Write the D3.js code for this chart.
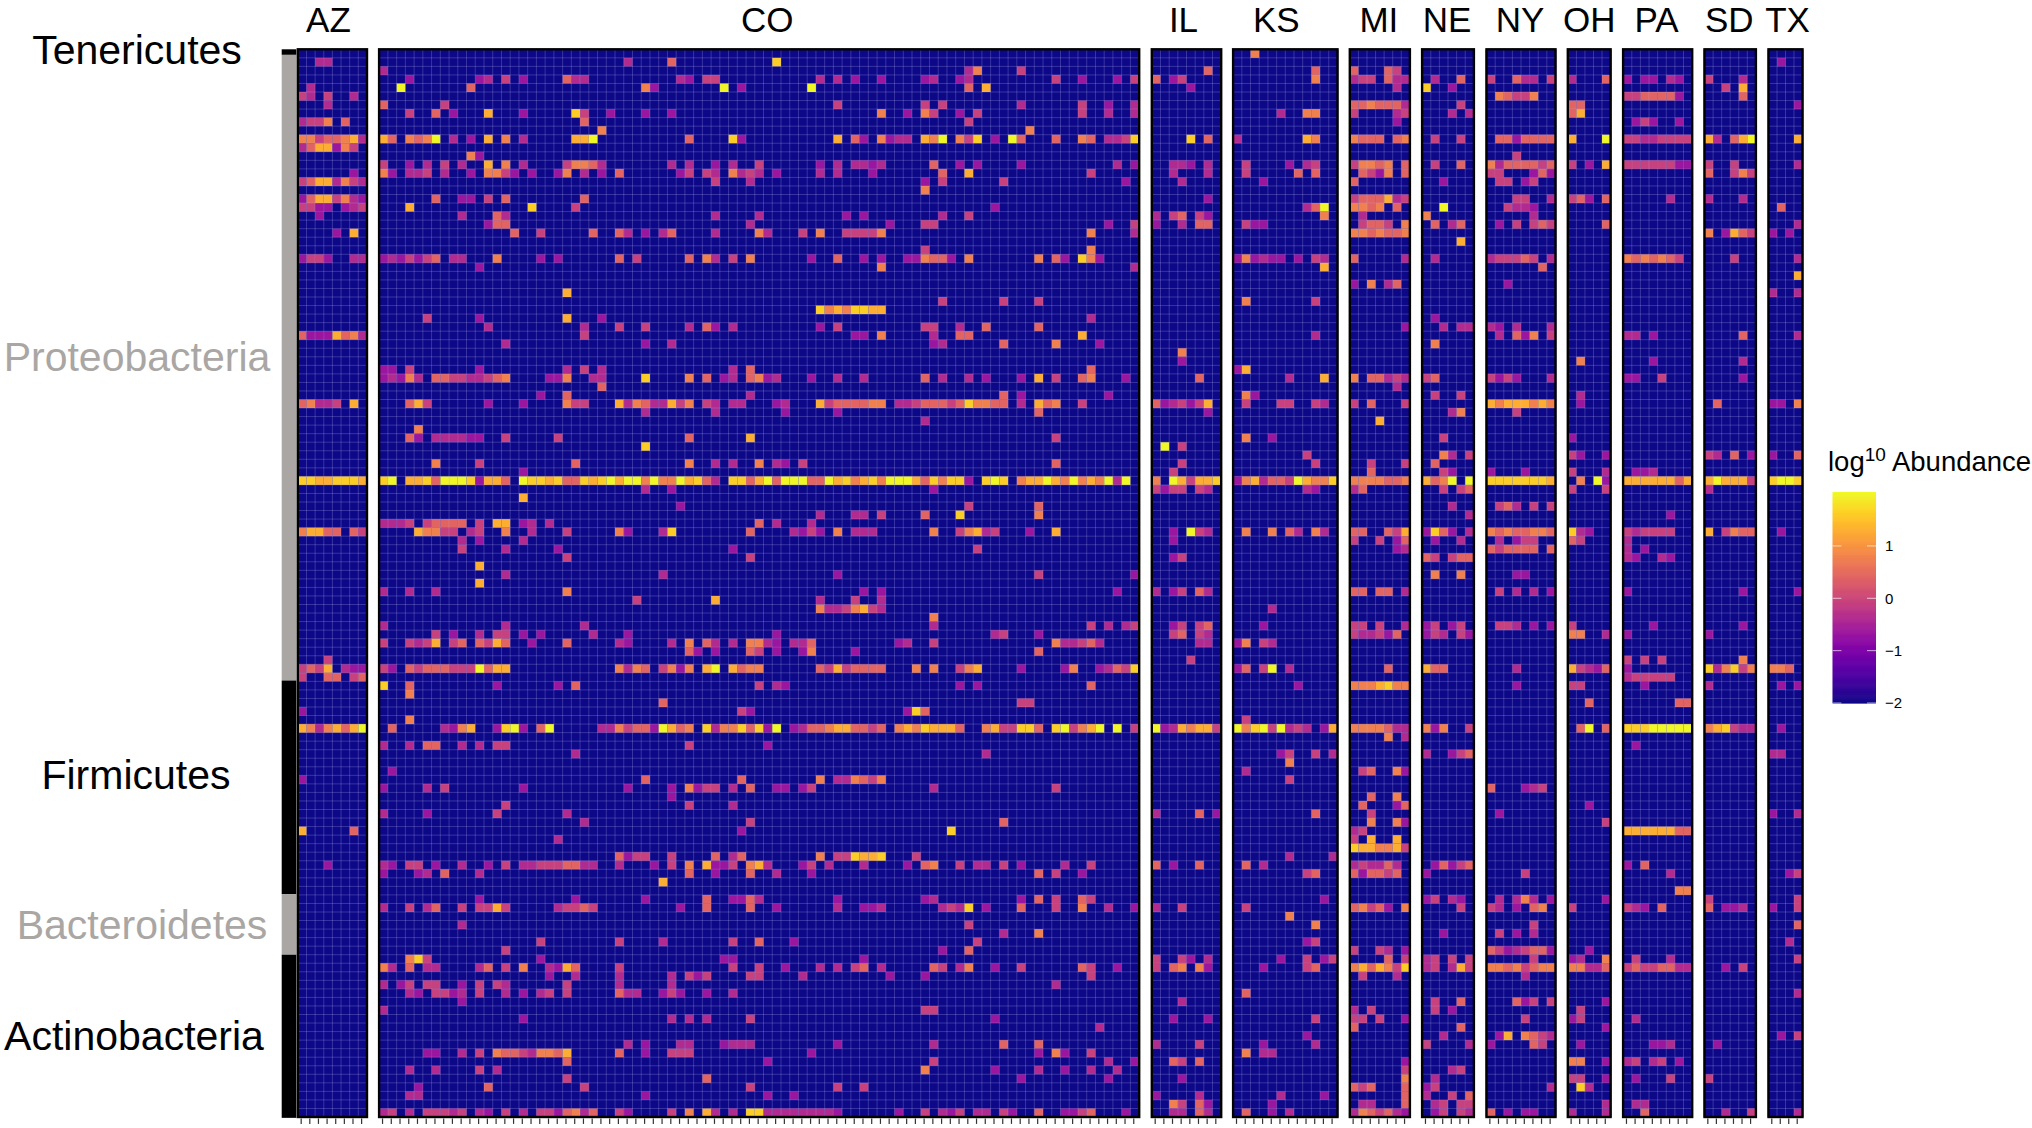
<!DOCTYPE html>
<html><head><meta charset="utf-8">
<script src="https://cdn.jsdelivr.net/npm/d3@7"></script>
<style>html,body{margin:0;padding:0;background:#fff}svg{display:block}text{font-family:"Liberation Sans",Arial,sans-serif}</style>
</head><body><div id="chart"></div>
<script>
const panelNames=["AZ","CO","IL","KS","MI","NE","NY","OH","PA","SD","TX"];
const panelCols=[8,87,8,12,7,6,8,5,8,6,4];
const rowCount=125;
const phylumNames=["Tenericutes","Proteobacteria","Firmicutes","Bacteroidetes","Actinobacteria"];
const phylumEnds=[0.65,73.9,98.9,106,125.1];
const legendTicks=[-2,-1,0,1];
const levelValues={a:-.67,b:-.39,c:-.07,d:.42,e:.78,f:1.3,g:1.63,h:2.0};
const AZ=[[1,"2b 3b"],[4,"1b"],[5,"0c 1b 3c 6b"],[6,"3b"],[8,"0b 1c 2c 3e 5d"],[10,"0e 1e 2c 3d 4d 5e 6f 7b"],[11,"0b 1d 2f 3f 4a 5e 6c"],[14,"6a"],[15,"0c 1d 2f 3f 4b 5e 6c 7b"],[17,"0a 1d 2f 3f 4c 5e 6b 7a"],[18,"0c 1c 2a 3a 5a 6b 7c"],[19,"2a"],[21,"4a 6f"],[24,"0a 1c 2c 3a 6b 7b"],[33,"0d 1a 2a 3a 4f 5d 6e 7b"],[41,"0d 1e 2b 3b 4c 6f"],[50,"0g 1g 2f 3f 4g 5g 6g 7f"],[56,"0e 1f 2f 3d 4d 6d 7c"],[71,"3c"],[72,"0c 1d 2c 3f 5b 6a 7a"],[73,"0c 3d 4d 6c 7d"],[77,"0a"],[79,"0f 1e 2b 3e 4f 5d 6f 7h"],[85,"0a"],[91,"0f 6d"],[95,"3a"]];
const CO=[
[1,"28b 33d 45g"],[2,"0b 67b 68e 73c"],
[3,"3a 11a 12b 14c 16a 21d 22b 23b 34b 35a 37c 38c 50b 52b 54a 57a 62a 63b 66a 67b 77c 80a 84a 86c"],
[4,"2h 10d 30e 31a 39h 41a 49h 67d 69f"],
[6,"0d 7c 52c 62c 64c 73b 80c 83a 86b"],
[7,"3c 6d 8a 12f 16a 22g 23c 26a 30a 33a 57e 60a 62e 63c 66a 68c 80c 83b 86b"],
[8,"23d 67c"],[9,"25e 74e"],
[10,"0f 1d 3e 4d 5e 6h 8b 10a 12f 14e 16b 22f 23f 24h 35d 40g 41a 52f 54d 55a 57e 58a 59b 60b 62f 63e 64h 66e 67c 68g 70a 72h 73d 77d 80e 81d 83b 84b 85c 86g"],
[12,"10e 11a"],
[13,"0c 3a 5b 7c 9b 12f 14e 16b 21c 22e 23e 24d 25b 33b 35b 38a 40b 43c 50a 52b 54b 55b 56a 57b 63d 66a 68a 73a 84b 86a"],
[14,"0e 1a 3b 4b 5c 7b 10a 12e 13e 14c 15a 17a 20a 21e 23b 25a 27d 34a 35c 37c 38b 40e 41b 42c 43b 45a 50b 52b 56a 64d 67f 81c"],
[15,"38c 42b 62a 64c 71c 85a"],[16,"62e"],
[17,"6d 9a 10a 12c 14d 23d"],[18,"3f 17g 22c 70a"],
[19,"9b 13d 14b 38b 43b 53a 55a 64b 67c"],[20,"12a 13d 14d 42b 58a 62c 63c 83a 86c"],
[21,"15d 18c 24d 27d 28b 30a 32b 33d 38b 43e 44b 48c 50e 53c 54c 55c 56c 57e 81e 86b"],
[23,"62c 81e"],
[24,"0a 1b 2a 3c 4a 5c 6d 8b 9b 13e 18a 20a 27d 29c 35d 37e 38b 40c 42e 49a 52d 55a 57a 60a 61a 62e 63d 64d 65a 67e 75e 77d 78a 80g 81e 82a"],
[25,"11a 57e 86b"],[28,"21f"],[29,"64c 71c 75c"],
[30,"50g 51e 52f 53e 54g 55g 56f 57f"],[31,"5c 11a 21f 25a 81b"],
[32,"12b 23b 27c 30c 35b 37d 38a 40b 50a 52c 62c 63c 66b 69d 75d"],
[33,"23c 54a 55a 57e 63b 66d 67d 80f"],[34,"14b 30a 33b 63a 64b 71d 77e 82a"],
[37,"0a 1a 3c 11a 21b 23c 25b 40b 42d 81d"],
[38,"0a 1b 2a 3e 4b 6d 7d 8c 9c 10b 11b 12c 13d 14e 19a 20a 21e 24b 25b 30g 35e 37d 39a 40b 42d 43e 44a 45b 49a 52b 55b 62d 64b 67b 69a 73a 75f 77c 80d 81e 85a"],
[39,"25d"],[40,"18a 21d 42b 71d 73a 83a"],
[41,"3d 4f 5c 12a 16a 21e 22c 23c 27f 28b 29e 30d 31b 32b 33f 34c 35e 37c 38b 40b 41b 45a 46b 50f 51c 52d 53d 54d 55d 56e 57e 59b 60b 61c 62d 63d 64d 65c 66d 67g 68e 69e 70d 71d 73b 75f 76d 77e 80c"],
[42,"30b 38b 46a 52a 75d"],[43,"62b"],[44,"4e"],
[45,"3d 4a 6b 7b 8b 9b 10a 11a 14c 20c 35d 42f 77c"],[46,"30g"],
[48,"6e 11c 22d 35e 38b 40b 43e 45b 46a 48c 77d"],[49,"16a"],
[50,"0g 1h 3f 4f 5g 6d 7h 8h 9h 10g 11a 12f 13f 14d 16h 17g 18g 19f 20g 21d 22d 23g 24f 25g 26h 27f 28h 29h 30e 31h 32e 33e 34h 35f 36g 37d 38b 40g 41g 42d 43f 44h 45d 46h 47h 48h 49d 50d 51h 52f 53g 54e 55f 56g 57e 58h 59h 60h 61f 62d 63g 64e 65g 66g 67a 69g 70h 71g 73e 74f 75f 76h 77f 78e 79h 80e 81f 82e 83h 84b 85h"],
[51,"30b 33a 63a"],[52,"16f"],[53,"34a 67c 75d"],
[54,"50b 54b 55b 57c 62d 66g 75e"],
[55,"0b 1b 2b 3c 5c 6d 7d 8d 9d 11c 13f 14f 16a 17b 19b 43d 45b 49b"],
[56,"4f 5e 6e 7c 8c 10b 11c 14e 17b 21c 27e 28a 32b 33g 42d 47b 48a 49c 50a 52e 54b 55b 56b 63e 66c 67e 68f 69b 70c 74a 77f"],
[57,"9b 11a 16b"],[58,"9c 14b 20a 40a 68c"],[59,"21c 42c"],[60,"11f"],
[61,"14b 32b 52a 75c 86a"],[62,"11f"],[63,"0b 3b 6b 21e 55a 57a 84a"],
[64,"29c 38f 50b 54c 57b"],[65,"50e 51b 52b 53c 54e 55f 56c 57b"],[66,"63e"],
[67,"0b 14b 23b 63b 81c 83b 85b 86c"],
[68,"6c 8a 11b 13c 14c 16a 18a 24b 28a 45a 70b 71c 75a"],
[69,"0c 3c 4b 5c 6f 8c 9d 11d 12c 13f 14d 17a 21d 27b 28a 33b 35e 37d 38b 40b 42e 43e 44b 45a 47b 48b 49d 59a 60b 63c 77e 78b 79b 80c 81d 82b"],
[70,"35d 36a 38a 42d 43c 45a 48a 49e 54a 75d"],
[72,"0c 1a 3d 4c 5d 6d 7d 8c 9c 10c 11h 12d 13f 14f 27e 28b 29e 30d 32c 33e 34a 35e 37f 38h 40f 41d 42e 43e 50d 51c 52f 53c 54d 55d 56d 57d 61e 63e 66c 67e 68f 73a 78a 79e 82a 83b 84d 85c 86g"],
[74,"0g 3d 13a 20a 22d 43c 45b 46a 66a 68a 81d"],[75,"3e"],[76,"32d 73c 74c"],
[77,"41c 42a 60a 61g 62d"],[78,"3e"],
[79,"1d 7b 8a 9e 10f 13a 14g 15h 16a 18d 19h 25b 26b 27e 28c 29d 30d 31a 32h 33f 34d 35e 37g 38b 39e 40e 41g 42d 43g 44a 45h 47a 48b 49d 50d 51e 52f 53f 54d 55d 56c 57d 59e 60f 61e 62g 63f 64f 65f 66d 69e 70f 71c 72c 73g 74g 75d 77g 78h 79c 80e 81f 82h 84h 86c"],
[81,"0b 3b 5d 6d 9b 11b 13c 14c 35c 44a"],[82,"22b 69b"],
[84,"1a"],[85,"30d 41d 50e 52b 53b 54e 55d 56c 57e"],
[86,"0a 5b 7c 16a 28a 33a 35e 36a 37c 38c 40b 42d 45a 46a 48a 49c 63b 77c"],
[87,"33a"],[88,"14c 35c 40b"],[89,"0b 5a 13c 21b"],[90,"23b 42c 71d"],[91,"41a 65g"],[92,"20b"],
[94,"27d 28a 29c 30c 33c 38d 40b 41d 50e 52c 53c 54g 55f 56f 57g 61c"],
[95,"0b 1a 3c 4c 6a 9b 12a 14c 16b 17b 18c 19c 20c 21d 22d 23b 24b 27b 31a 33c 35e 37f 38a 39a 40c 42e 43f 44b 48a 49c 51b 55b 60a 62d 63e 66c 68b 69b 71c 73a 78b 81c"],
[96,"0a 4a 5b 7d 11b 35d 38a 42d 45b 49a 75d 77c 80a"],[97,"32f"],
[99,"11a 22a 30a 37d 40a 41a 42d 43b 52a 62a 63b 73a 75d 77c 80d 81c"],
[100,"0b 3c 5b 6d 9c 11c 12c 13f 14c 20b 21c 22c 23d 24c 34a 37d 42d 45a 52b 55a 56a 57b 64b 65c 66b 67g 69a 73d 77c 80e 83b 86a"],
[102,"9b 67c"],[103,"71b 75e"],[104,"18c 27c 32b 40c 43d 47a 68c"],[105,"14c 64a 67d"],
[106,"3e 4g 5c 18a 39a 40a 55a"],
[107,"0e 1b 3d 5b 6b 11b 12d 14c 16e 19b 20a 21f 22d 27c 40c 43c 46a 50b 52b 54c 55d 57b 63d 64c 66b 67e 70a 73c 80d 81c 84a"],
[108,"19a 22b 27b 33b 35c 36a 37c 42c 43c 48b 58a 62a 81c"],
[109,"0b 2a 3c 5c 6c 9a 11c 13c 14b 21c 27b 33b 77b"],
[110,"3b 4a 6c 7c 8a 9b 11c 14b 16a 18b 19c 21c 27d 28b 29b 32a 33c 34a 37a 40b"],
[111,"9a"],[112,"0b 62c 63c"],[113,"16a 33b 35b 37b 42c 70a"],[114,"82b"],
[116,"28b 30a 34b 35b 39a 40b 41b 42b 52a 63b 71d 75d"],
[117,"5a 6a 9b 11c 13e 14d 15d 16c 17b 18e 19e 20d 21f 27d 30a 33c 34c 35c 49a 75a 77e 78a 81c"],
[118,"21d 44a 63c 83b 86a"],[119,"3b 6b 11c 13b 62e 70a 75b 78a 81b 84b"],[120,"21c 37d 73a 83a"],
[121,"4a 12d 23c 42c 52c 55c"],[122,"3b 4b 30a 44a 47a"],
[124,"0b 1c 3b 5c 6c 7c 8b 9c 11b 12a 14c 16b 18c 19c 20a 21d 22e 23b 24d 27c 28a 33c 35e 37f 38b 40b 42g 43g 44b 45b 46b 47b 48b 49b 50b 51b 52a 59a 62c 64b 65a 66c 68b 69b 71c 72a 75d 78a 79a 80c 81d 85a"]
];
const IL=[[2,"6d"],[3,"0d 2a 3c"],[4,"4a"],[10,"4g 6d"],[13,"2b 3b 4a 6b"],[14,"2b 6b"],[15,"3b"],[17,"6a"],[19,"0b 2c 3d 5c 6a"],[20,"0a 3b 5d 6d"],[35,"3e"],[36,"3a"],[38,"5d"],[41,"0d 1a 2b 3c 4a 5c 6f"],[42,"6a"],[46,"1h 3c"],[48,"3c"],[49,"2c"],[50,"0e 2h 3f 4c 5f 6f 7g"],[51,"0c 1a 2c 3c 5c 6b"],[56,"2a 4h 5c 6b"],[57,"2a"],[59,"2a 3c"],[63,"0b 2a 3c 5d 6b"],[67,"2a 3c 5c 6d"],[68,"2c 3d 5c 6b"],[69,"5b 6b"],[71,"4c"],[79,"0h 1a 2b 3f 4e 5f 6f 7c"],[89,"0b 5d 7a"],[95,"0d 2a 5d"],[100,"0b 3c"],[106,"0c 3c 4a 6b"],[107,"0c 2d 3e 5e 6a"],[111,"3b"],[113,"2a 6a"],[116,"0b 5c"],[118,"2d 3c 5d"],[120,"3a"],[122,"0a 5b"],[123,"2e 3c 5d 6a"],[124,"2b 3b 5d 6b"]];
const KS=[[0,"2e"],[2,"9d"],[3,"9e"],[7,"5b 8e 9e"],[10,"0b 8f 9e"],[13,"1c 6a 8b 9c"],[14,"1c 7d 9d"],[15,"3a"],[18,"8b 9d 10h"],[19,"10e"],[20,"1c 2a 3a"],[24,"0a 1e 2a 3b 4a 5a 7a 9c 10b"],[25,"10f"],[29,"1e 9c"],[33,"9b"],[37,"0a 1f"],[38,"6b 10f"],[40,"1e 2a"],[41,"1c 5c 6c 9c 10b"],[45,"1e 4a"],[47,"8c"],[48,"9c"],[50,"0a 1e 2f 3b 4d 5d 6c 7h 8f 9e 10e 11g"],[51,"8b 9a"],[56,"1e 4e 6d 7b 9e 10b"],[65,"4b"],[67,"3a"],[69,"0a 1e 3c 4b"],[72,"0a 1d 3c 4h 6b"],[74,"7a"],[78,"1c"],[79,"0h 1e 2g 3h 4c 5h 6b 7c 8b 10a 11f"],[82,"5a 6c 9c 11b"],[83,"6e"],[84,"1b"],[85,"6c"],[89,"9d"],[94,"6b 11b"],[95,"1d 3b"],[96,"8c 9d"],[99,"10a"],[100,"1c"],[101,"6e"],[102,"9e"],[104,"8a 9c"],[106,"5a 8c 10a 11c"],[107,"3a 8c 9d"],[110,"1d"],[113,"9c"],[115,"8a"],[116,"3a 9b"],[117,"1e 3b 4b"],[122,"5b 10a"],[123,"4a"],[124,"1d 4a 6b"]];
const MI=[[2,"0d 4d 5c"],[3,"0b 1c 2c 4d 5b 6b"],[4,"5b"],[6,"0d 1d 2e 3d 4d 5d 6b"],[7,"0c 5b 6c"],[8,"5a"],[10,"0e 1d 2d 3d 5d 6e"],[13,"0c 1e 2e 3d 4e 6d"],[14,"1d 2c 3a 4e 6d"],[15,"0d"],[17,"0c 1d 2d 3d 4f 5b 6c"],[18,"0e 1e 2d 3e 5d"],[19,"1b"],[20,"1c 2d 3d 4c 6e"],[21,"0e 1e 2d 3e 4d 5d 6e"],[24,"0d 6b"],[27,"0a 2e 4b 5d"],[32,"6a"],[38,"0e 2d 3d 4b 5c 6b"],[39,"5b"],[41,"0c 2d 6c"],[43,"3f"],[48,"2c 6c"],[49,"2d"],[50,"0e 1e 2e 3e 4d 5d 6e"],[51,"0b 1d"],[56,"0d 1d 4d 5c 6f"],[57,"0c 3c 5a 6d"],[58,"5a 6b"],[63,"0d 1d 3d 4d 6b"],[67,"0c 1c 3c 6b"],[68,"0c 1b 2b 3c 4a 5d"],[72,"4d"],[74,"0e 1e 2e 3f 4g 5e 6e"],[79,"0e 1e 2e 3e 4d 5b 6b"],[80,"4e 6b"],[84,"1c 2d 5e 6a"],[87,"2d 5e"],[88,"1d 5a 6d"],[89,"2c"],[90,"2e 5e 6a"],[91,"0b 1c"],[92,"0c 2f 5f"],[93,"0g 1f 2f 3e 4e 5f 6c"],[95,"0b 1c 2b 3b 4d 5b"],[96,"0d 1a 2d 3d 4c 5d"],[100,"0d 1e 2c 3d 4a 6e"],[105,"0c 3c 4b 6a"],[106,"4d 6c"],[107,"0e 1f 2d 3f 4e 5c 6g"],[108,"1c 5b"],[112,"0b 2c"],[113,"0c 1c 3c 6a"],[114,"0d"],[118,"6a"],[119,"6c"],[120,"6e"],[121,"0d 1c 2d 6d"],[122,"6d"],[123,"1b 2b 6d"],[124,"0b 1e 2d 3c 4d 5b 6a"]];
const NE=[[3,"1b 4d"],[4,"0g 3a"],[6,"4c"],[7,"3b 5b"],[10,"1c 4c"],[13,"1c 4d"],[15,"2a"],[18,"2h"],[19,"0e"],[20,"1d 3b 4d"],[22,"4f"],[24,"1b"],[31,"1a"],[32,"2b 4b 5b"],[34,"1e"],[38,"0c 1d"],[40,"1c 4c"],[42,"3b 4e"],[45,"2c"],[47,"2e 3b 5c"],[48,"1d"],[49,"2c 3a"],[50,"0f 1d 2e 3h 5h"],[51,"2c 4c 5d"],[53,"3b"],[54,"5b"],[56,"0a 1g 2d 3a 5b"],[57,"1a 4b"],[59,"0d 1c 3c 4d 5d"],[61,"1e 4e"],[67,"0a 1c 3a 4c"],[68,"0a 1c 2b 4c 5a"],[72,"0f 1d 2d"],[79,"0e 1a 2e 5c"],[82,"0b 3a 4c 5d"],[95,"1a 2d 3a 4c 5d"],[96,"0a"],[99,"0a 1c 3b 4a"],[100,"4c"],[103,"2a"],[106,"0b 1c 3c 5c"],[107,"0b 1c 3b 4f 5c"],[111,"1c 4d"],[112,"1c 3a"],[114,"4d"],[115,"2b"],[116,"0c 5b"],[119,"3b 4c"],[120,"1b"],[121,"0a 1c"],[122,"0b 3c 5d"],[123,"1b 2c 4c 5c"],[124,"1a 2c 4c 5b"]];
const NY=[[3,"0c 3d 4b 5b 7c"],[5,"1e 2d 3c 4c 5e"],[10,"1d 2d 3a 4d 5d 6d 7d"],[12,"3c"],[13,"0e 1b 2d 3d 4d 5d 6c 7d"],[14,"0c 1c 5a 6d 7a"],[15,"1c 2c 4a 5c"],[17,"3c 4c 7b"],[18,"2c 3b 4b 5a"],[19,"5b"],[20,"1a 3c 5c 6d 7c"],[24,"0b 1c 2c 3c 4d 5c 7b"],[25,"6d"],[27,"2a"],[32,"0b 1a 3b 7b"],[33,"1b 3d 4a 5e 7c"],[38,"0c 1a 2c 3a 7b"],[41,"0f 1e 2f 3f 4f 5e 6f 7e"],[42,"3c"],[49,"0a 4a"],[50,"0g 1g 2g 3g 4g 5g 6g 7f"],[53,"1c 2d 3b 5c 7c"],[56,"0e 1d 2e 3d 4d 5e 6e 7d"],[57,"1b 3a 4c 5c"],[58,"0d 1c 2d 3d 4d 5d 7d"],[61,"3a 4a"],[63,"1c 3b 5b 7a"],[67,"1c 2c 3b 5a 7a"],[72,"3b"],[74,"3a"],[86,"0d 4a 5b 6c"],[89,"1a"],[96,"4c"],[99,"1b 3b 4e 5b 7a"],[100,"0c 1b 3a 5d 6e"],[102,"5c"],[103,"1c 3a 5b"],[105,"0d 1c 2a 3b 4c 5d 6d 7a"],[106,"5c"],[107,"0e 1e 2d 3e 4c 5d 6e 7e"],[108,"4b"],[111,"3d 4a 5c 7c"],[113,"4c"],[115,"1a 2f 4e 5d 6c 7b"],[116,"0a 5d 6c"],[121,"7b"],[124,"0d 2a 4a 5a"]];
const OH=[[3,"0b 4d"],[6,"0d 1d"],[7,"0d 1f"],[10,"0f 4h"],[13,"0c 2a 4f"],[17,"0c 1d 2a 4d"],[20,"4d"],[36,"1e"],[40,"1b"],[41,"1a"],[45,"0a"],[47,"0c 1a 4a"],[49,"0c 4b"],[50,"1e 3h 4a"],[51,"0c 4c"],[56,"0g 1b 2a"],[57,"0d 1c"],[67,"0c"],[68,"0e 1e 4b"],[72,"0f 1c 2b 3a 4d"],[74,"0c 1c"],[76,"2d"],[79,"1d 2h 4d"],[88,"2a"],[90,"4c"],[99,"4a"],[100,"0c"],[105,"2a"],[106,"0a 1b 4e"],[107,"0e 1e 2b 3b 4d"],[111,"4a"],[112,"1c"],[113,"0a 1c"],[114,"4a"],[116,"1a"],[118,"0e 1e 4a"],[120,"0c 1c 4a"],[121,"1g 2b"],[123,"4b"],[124,"0b 4b"]];
const PA=[[3,"0a 2a 3a 5b 6a"],[5,"0c 1c 2d 3d 4d 5d 6a"],[8,"1a 2c 3a 6a"],[10,"0c 1c 2b 3b 4c 5c 6c 7c"],[13,"0c 1c 2c 3c 4c 5c 6a 7a"],[17,"5b"],[24,"0e 1d 2e 3d 4e 5d 6c"],[33,"0b 1b 3a"],[36,"3a"],[38,"0a 1a 4c"],[49,"1a 2a 3b"],[50,"0f 1f 2f 3f 4f 5f 6d 7f"],[54,"5a"],[56,"0c 1b 2c 3c 4c 5c"],[57,"0b"],[58,"0b 2a"],[59,"0b 1a 4b 5a"],[63,"0a"],[67,"3a"],[68,"0a"],[71,"0c 2c 4c"],[72,"0a"],[73,"0b 1c 2c 3c 4c 5c"],[74,"2a"],[76,"6d 7d"],[79,"0g 1g 2g 3h 4h 5h 6h 7h"],[81,"1a"],[91,"0f 1f 2f 3f 4f 5f 6d 7d"],[95,"0a 2d"],[96,"5b"],[98,"6e 7e"],[100,"0c 1b 2a 4d"],[106,"1c 5b"],[107,"0c 1d 2c 3c 4d 5d 6b 7b"],[113,"1b"],[116,"3a 4a 5b"],[118,"0b 1c 3b 4c 6a"],[120,"1a 5c"],[123,"1b 2b"],[124,"2d"]];
const SD=[[3,"0c 4b"],[4,"2c 4f"],[5,"4d"],[10,"0f 1b 3d 4f 5h"],[13,"0c 3c"],[14,"0d 3c 4e 5c"],[17,"0b 4b"],[21,"0e 2a 3f 4d 5c"],[24,"3c"],[33,"4d"],[36,"4b"],[38,"4a"],[41,"1d"],[47,"0c 1b 3d 5a"],[50,"0f 1h 2f 3f 4f 5c"],[51,"0b"],[56,"0f 2c 3e 4d 5d"],[63,"4a"],[67,"4a"],[68,"0a"],[71,"4e"],[72,"0g 1b 2e 3g 4c 5e"],[74,"0b"],[79,"0e 1f 2g 3c 4b 5b"],[99,"0c"],[100,"0d 2a 3a 4b"],[107,"2a 4c"],[116,"1a"],[120,"0c"],[124,"2b 5c"]];
const TX=[[1,"1a"],[6,"3a"],[10,"3f"],[13,"3b"],[18,"1d"],[20,"3b"],[21,"0a 2a"],[24,"3b"],[26,"3f"],[28,"0b 3b"],[33,"3b"],[41,"0a 1a 3e"],[47,"0a 3d"],[50,"0g 1h 2h 3g"],[56,"1a"],[63,"3a"],[72,"0e 1e 2d"],[74,"1a 3a"],[79,"1a"],[82,"0b 1b"],[89,"0a 3b"],[96,"2a 3c"],[99,"3c"],[100,"0a 3c"],[102,"3d"],[104,"2b"],[106,"3c"],[110,"3b"],[115,"1a 3c"],[124,"3b"]];
const panelData=[AZ,CO,IL,KS,MI,NE,NY,OH,PA,SD,TX];

// layout (pixel geometry, not data)
const W=2032,H=1128,plotTop=49.3,plotBottom=1117;
const panelLeft=[297,378.3,1151,1232.3,1349,1421.3,1485.7,1567,1622.3,1703.7,1767.7];
const panelRight=[367.8,1140,1222,1338.3,1410.7,1474.7,1556.3,1611.4,1693,1756.7,1803.3];
const labelShift=[-4,8,-3,-9,-1,-1,-1,0,-1,-1,2];
const phylumLabelX=[137,137,136,142,134];
const phylumLabelY=[64,371,789,939,1050];
const phylumColors=["#000","#a9a6a4","#000","#a9a6a4","#000"];

const svg=d3.select("#chart").append("svg").attr("width",W).attr("height",H).attr("viewBox",[0,0,W,H]);
const y=d3.scaleBand().domain(d3.range(rowCount)).range([plotTop,plotBottom]);
const legendScale=d3.scaleLinear().domain([-2,2.03]).range([703,492]);
const color=v=>d3.interpolatePlasma((v+2)/4.03);
const parse=rows=>rows.flatMap(([r,s])=>s.split(" ").map(t=>({r,c:+t.slice(0,-1),v:levelValues[t.slice(-1)]})));

// phylum strip
let prev=0;
phylumEnds.forEach((e,i)=>{
  const ys=d3.scaleLinear().domain([0,rowCount]).range([plotTop,plotBottom]);
  svg.append("rect").attr("x",281.7).attr("width",14.6).attr("y",ys(prev)).attr("height",ys(e)-ys(prev)).attr("fill",phylumColors[i]);
  prev=e;
  svg.append("text").attr("x",phylumLabelX[i]).attr("y",phylumLabelY[i]).attr("text-anchor","middle")
    .attr("font-size",41).attr("fill",phylumColors[i]).text(phylumNames[i]);
});

panelNames.forEach((name,i)=>{
  const L=panelLeft[i],R=panelRight[i],n=panelCols[i],u=(R-L)/(n+.2);
  const x=d3.scaleBand().domain(d3.range(n)).range([L+.1*u,R-.1*u]);
  const g=svg.append("g");
  g.append("rect").attr("x",L).attr("y",plotTop).attr("width",R-L).attr("height",plotBottom-plotTop).attr("fill",color(-2));
  g.selectAll("rect.cell").data(parse(panelData[i])).join("rect").attr("class","cell")
    .attr("x",d=>x(d.c)).attr("y",d=>y(d.r)).attr("width",x.bandwidth()).attr("height",y.bandwidth()).attr("fill",d=>color(d.v));
  const grid=g.append("g").attr("stroke","#c8c8ff").attr("stroke-opacity",.26).attr("stroke-width",.9);
  grid.selectAll("line.v").data(d3.range(1,n)).join("line").attr("x1",d=>x(d)).attr("x2",d=>x(d)).attr("y1",plotTop).attr("y2",plotBottom);
  grid.selectAll("line.h").data(d3.range(1,rowCount)).join("line").attr("y1",d=>y(d)).attr("y2",d=>y(d)).attr("x1",L).attr("x2",R);
  g.append("rect").attr("x",L+.8).attr("y",plotTop).attr("width",R-L-1.6).attr("height",plotBottom-plotTop)
    .attr("fill","none").attr("stroke","#000").attr("stroke-width",2.4);
  const ax=d3.axisBottom(x).tickFormat("").tickSize(5.5).tickSizeOuter(0);
  const ag=g.append("g").attr("transform",`translate(-1,${plotBottom+1.4})`).call(ax);
  ag.select(".domain").remove();
  ag.selectAll("line").attr("stroke","#333").attr("stroke-width",1.2);
  ag.selectAll("text").remove();
  g.append("text").attr("x",(L+R)/2+labelShift[i]).attr("y",32).attr("text-anchor","middle").attr("font-size",35).text(name);
});

// legend
const lg=svg.append("g");
const title=lg.append("text").attr("x",1828).attr("y",471).attr("font-size",27.5);
title.append("tspan").text("log");
title.append("tspan").attr("dy",-10).attr("font-size",19).text("10");
title.append("tspan").attr("dy",10).text(" Abundance");
lg.selectAll("rect.bar").data(d3.range(-2,2.03,.01)).join("rect").attr("class","bar")
  .attr("x",1832.7).attr("width",43.3).attr("y",d=>legendScale(d+.01)).attr("height",Math.abs(legendScale(0)-legendScale(.01))+.6).attr("fill",d=>color(d));
const lax=d3.axisRight(legendScale).tickValues(legendTicks).tickSize(0).tickPadding(9)
  .tickFormat(d=>d<0?"\u2212"+(-d):d);
const lag=lg.append("g").attr("transform","translate(1876,0)").call(lax);
lag.select(".domain").remove();
lag.selectAll("text").attr("font-size",15).attr("fill","#000").attr("font-family",'"Liberation Sans",Arial,sans-serif');
lg.selectAll("line.t1").data(legendTicks).join("line").attr("x1",1832.7).attr("x2",1841.4).attr("y1",d=>legendScale(d)).attr("y2",d=>legendScale(d)).attr("stroke","#fff").attr("stroke-opacity",.65);
lg.selectAll("line.t2").data(legendTicks).join("line").attr("x1",1867).attr("x2",1876).attr("y1",d=>legendScale(d)).attr("y2",d=>legendScale(d)).attr("stroke","#fff").attr("stroke-opacity",.65);
</script></body></html>
